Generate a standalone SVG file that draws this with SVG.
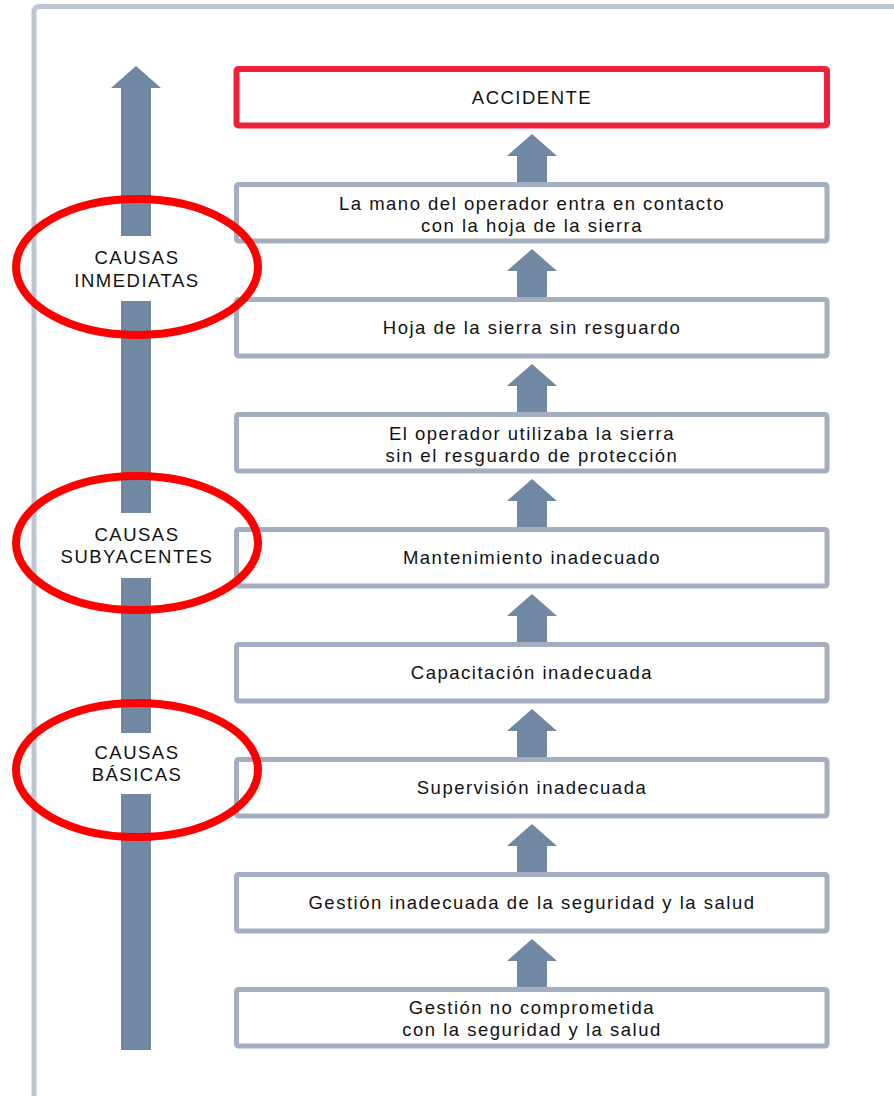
<svg xmlns="http://www.w3.org/2000/svg" width="894" height="1096" viewBox="0 0 894 1096">
<style>
.frame{fill:none;stroke:#bec6d4;stroke-width:5}
.box{fill:#fff;stroke:#a3aec0;stroke-width:5}
.red{fill:#fff;stroke:#ee2138;stroke-width:6}
.arr{fill:#7188a3}
.ell{fill:none;stroke:#ff0000;stroke-width:8}
text{font-family:"Liberation Sans",Arial,sans-serif;font-size:18.5px;letter-spacing:1.5px;fill:#111;text-anchor:middle}
</style>
<rect width="894" height="1096" fill="#fff"/>
<path class="frame" d="M34,1096 V12 Q34,6.5 40,6.5 H894"/>
<g id="connectors">
<polygon class="arr" points="136,66 161,88 151,88 151,236 121,236 121,88 111,88"/>
<rect class="arr" x="121" y="301" width="30" height="212"/>
<rect class="arr" x="121" y="578" width="30" height="155"/>
<rect class="arr" x="121" y="794" width="30" height="256"/>
<polygon class="arr" points="532,134 557,156 547,156 547,186 517,186 517,156 507,156"/>
<polygon class="arr" points="532,249 557,271 547,271 547,301 517,301 517,271 507,271"/>
<polygon class="arr" points="532,364 557,386 547,386 547,416 517,416 517,386 507,386"/>
<polygon class="arr" points="532,479 557,501 547,501 547,531 517,531 517,501 507,501"/>
<polygon class="arr" points="532,594 557,616 547,616 547,646 517,646 517,616 507,616"/>
<polygon class="arr" points="532,709 557,731 547,731 547,761 517,761 517,731 507,731"/>
<polygon class="arr" points="532,824 557,846 547,846 547,876 517,876 517,846 507,846"/>
<polygon class="arr" points="532,939 557,961 547,961 547,991 517,991 517,961 507,961"/>
</g>
<g id="accidente"><rect class="red" x="236.5" y="69" width="590.5" height="56.5" rx="2"/><text x="532" y="104">ACCIDENTE</text></g>
<g id="mano"><rect class="box" x="236.5" y="184.5" width="590.5" height="56.5" rx="2"/><text x="532" y="209.5">La mano del operador entra en contacto</text><text x="532" y="231.5">con la hoja de la sierra</text></g>
<g id="hoja"><rect class="box" x="236.5" y="299.5" width="590.5" height="56.5" rx="2"/><text x="532" y="334">Hoja de la sierra sin resguardo</text></g>
<g id="operador"><rect class="box" x="236.5" y="414.5" width="590.5" height="56.5" rx="2"/><text x="532" y="439.5">El operador utilizaba la sierra</text><text x="532" y="461.5">sin el resguardo de protección</text></g>
<g id="mantenimiento"><rect class="box" x="236.5" y="529.5" width="590.5" height="56.5" rx="2"/><text x="532" y="564">Mantenimiento inadecuado</text></g>
<g id="capacitacion"><rect class="box" x="236.5" y="644.5" width="590.5" height="56.5" rx="2"/><text x="532" y="679">Capacitación inadecuada</text></g>
<g id="supervision"><rect class="box" x="236.5" y="759.5" width="590.5" height="56.5" rx="2"/><text x="532" y="794">Supervisión inadecuada</text></g>
<g id="gestion"><rect class="box" x="236.5" y="874.5" width="590.5" height="56.5" rx="2"/><text x="532" y="909">Gestión inadecuada de la seguridad y la salud</text></g>
<g id="gestion-no"><rect class="box" x="236.5" y="989.5" width="590.5" height="56.5" rx="2"/><text x="532" y="1013.5">Gestión no comprometida</text><text x="532" y="1035.5">con la seguridad y la salud</text></g>
<g id="inmediatas"><ellipse class="ell" cx="137" cy="267" rx="121" ry="68"/><text x="137" y="264">CAUSAS</text><text x="137" y="287">INMEDIATAS</text></g>
<g id="subyacentes"><ellipse class="ell" cx="137" cy="543" rx="121" ry="67"/><text x="137" y="541">CAUSAS</text><text x="137" y="563">SUBYACENTES</text></g>
<g id="basicas"><ellipse class="ell" cx="137" cy="770" rx="121" ry="67"/><text x="137" y="759">CAUSAS</text><text x="137" y="781">BÁSICAS</text></g>
</svg>
